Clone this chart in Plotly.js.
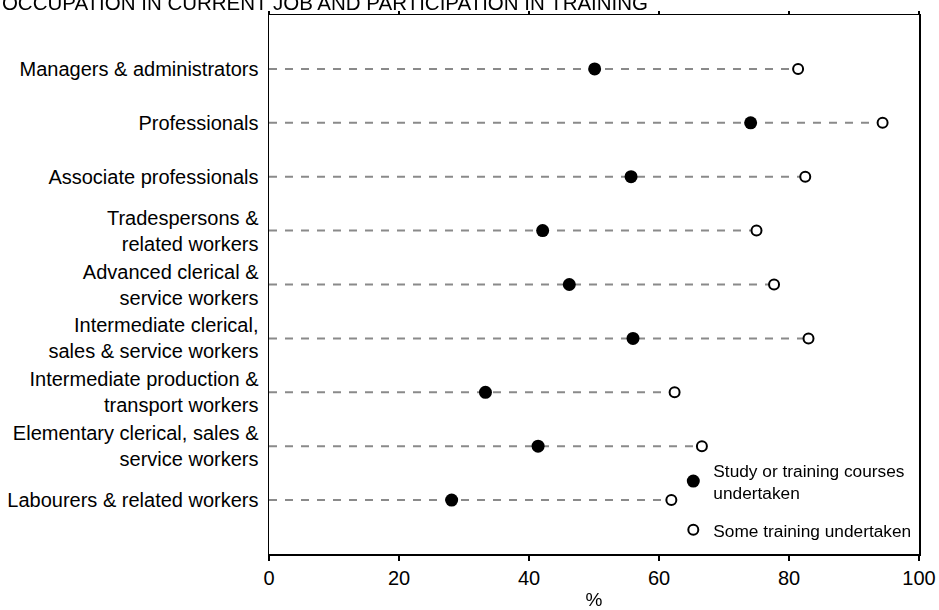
<!DOCTYPE html>
<html>
<head>
<meta charset="utf-8">
<script src="https://cdn.plot.ly/plotly-3.0.1.min.js"></script>
<style>html,body{margin:0;padding:0;background:#fff;}#chart{width:939px;height:610px;}</style>
</head>
<body>
<div id="chart"></div>
<script>
const chartTitle = "OCCUPATION IN CURRENT JOB AND PARTICIPATION IN TRAINING";
const categories = [
  "Managers & administrators",
  "Professionals",
  "Associate professionals",
  "Tradespersons &<br>related workers",
  "Advanced clerical &<br>service workers",
  "Intermediate clerical,<br>sales & service workers",
  "Intermediate production &<br>transport workers",
  "Elementary clerical, sales &<br>service workers",
  "Labourers & related workers"
];
const studyValues = [50.1, 74.1, 55.7, 42.1, 46.2, 56.0, 33.3, 41.4, 28.1];
const someValues  = [81.4, 94.4, 82.5, 75.0, 77.7, 83.0, 62.4, 66.6, 61.9];
const seriesNames = ["Study or training courses<br>undertaken", "Some training undertaken"];
const xTicks = [0, 20, 40, 60, 80, 100];
const xTitle = "%";

const FONT = "Liberation Sans, Arial, sans-serif";

// dashed guide lines from 0 to the furthest point of each row
const lineX = [], lineY = [];
categories.forEach((c, i) => {
  lineX.push(0, Math.max(studyValues[i], someValues[i]), null);
  lineY.push(c, c, null);
});

const traces = [
  {x: lineX, y: lineY, type: "scatter", mode: "lines", showlegend: false, hoverinfo: "skip",
   line: {color: "#8a8a8a", width: 2, dash: "8px,8px"}},
  {x: studyValues, y: categories, type: "scatter", mode: "markers", name: seriesNames[0],
   legendgroup: "a", marker: {color: "#000", size: 13, line: {width: 0}}},
  {x: someValues, y: categories, type: "scatter", mode: "markers", name: seriesNames[1],
   legendgroup: "b", marker: {color: "#fff", size: 10, line: {color: "#000", width: 2}}},
  {x: studyValues, y: categories, xaxis: "x2", type: "scatter", mode: "markers", showlegend: false,
   hoverinfo: "skip", opacity: 0, marker: {size: 1}}
];

const layout = {
  width: 939, height: 610,
  margin: {l: 269, r: 20, t: 15, b: 56, pad: 0},
  paper_bgcolor: "#fff", plot_bgcolor: "#fff",
  font: {family: FONT, color: "#000", size: 19},
  title: {text: chartTitle, x: 0.002, xref: "container", xanchor: "left",
          y: 0.9955, yref: "container", yanchor: "middle",
          font: {family: FONT, size: 20.5, color: "#000"}},
  xaxis: {range: [0, 100], tickvals: xTicks, ticktext: xTicks.map(String),
          showgrid: false, zeroline: false, showline: true, linecolor: "#000", linewidth: 1.5,
          mirror: true, ticks: "outside", ticklen: 5, tickwidth: 1.5, tickcolor: "#000",
          tickfont: {size: 20, family: FONT, color: "#000"},
          title: {text: xTitle, font: {size: 19, family: FONT, color: "#000"}, standoff: 13},
          fixedrange: true},
  xaxis2: {range: [0, 100], overlaying: "x", side: "top", tickvals: xTicks, showticklabels: false,
           showgrid: false, zeroline: false, showline: false, ticks: "outside", ticklen: 3,
           tickwidth: 1.5, tickcolor: "#000"},
  yaxis: {type: "category", categoryorder: "array", categoryarray: categories,
          range: [categories.length, -1], showgrid: false, zeroline: false,
          showline: true, linecolor: "#000", linewidth: 1.5, mirror: true,
          ticks: "", ticklabelstandoff: 5,
          tickfont: {size: 20, family: FONT, color: "#000"}},
  showlegend: true,
  legend: {x: 0.622, xanchor: "left", y: 0.189, yanchor: "top",
           bgcolor: "rgba(0,0,0,0)", borderwidth: 0, traceorder: "grouped", tracegroupgap: 12,
           font: {size: 17.3, family: FONT, color: "#000"}, itemwidth: 30}
};

Plotly.newPlot("chart", traces, layout, {displayModeBar: false, staticPlot: true});
</script>
</body>
</html>
